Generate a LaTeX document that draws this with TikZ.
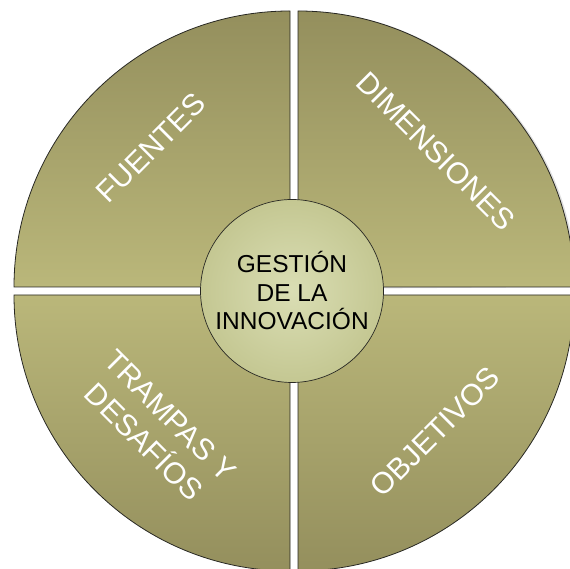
\documentclass[tikz,border=0pt]{standalone}
\usepackage{fontspec}
\setmainfont{Liberation Sans}
\usetikzlibrary{shadings}
\definecolor{secdark}{RGB}{148,143,93}
\definecolor{seclight}{RGB}{186,183,122}
\definecolor{hubin}{RGB}{218,222,180}
\definecolor{hubout}{RGB}{196,199,146}
\definecolor{edge}{RGB}{40,40,35}
\tikzset{
  sectorT/.style={top color=secdark, bottom color=seclight, draw=edge, line width=0.8pt},
  sectorB/.style={top color=seclight, bottom color=secdark, draw=edge, line width=0.8pt},
  lbl/.style={text=white, font=\fontsize{30}{37}\selectfont, align=center, inner sep=0pt},
  hub/.style={circle, minimum size=183pt, inner sep=0pt, draw=edge, line width=0.7pt,
    inner color=hubin, outer color=hubout, font=\fontsize{24.5}{28.5}\selectfont, align=center}
}
\begin{document}
\begin{tikzpicture}[x=1pt,y=1pt]
\useasboundingbox (0,0) rectangle (570,569);
\clip (0,0) rectangle (570,569);
% shadow of top-right sector
\fill[black!12] (300,280) -- (300,558) arc[start angle=90,end angle=0,radius=276] -- cycle;
% sectors
\path[sectorT] (290,282) -- (14,282) arc[start angle=180,end angle=90,radius=276] -- cycle;
\path[sectorT] (298,282) -- (298,558) arc[start angle=90,end angle=0,radius=276] -- cycle;
\path[sectorB] (290,274) -- (290,-2) arc[start angle=270,end angle=180,radius=276] -- cycle;
\path[sectorB] (298,274) -- (574,274) arc[start angle=0,end angle=-90,radius=276] -- cycle;
% labels
\node[lbl, rotate=45] (fuentes) at (151,421) {FUENTES};
\node[lbl, rotate=-45] (dimensiones) at (436,418) {DIMENSIONES};
\node[lbl, rotate=-45] (trampas) at (157,140) {TRAMPAS Y\\DESAFÍOS};
\node[lbl, rotate=45] (objetivos) at (435,137) {OBJETIVOS};
% hub
\node[hub] (gestion) at (292,278) {GESTIÓN\\DE LA\\INNOVACIÓN};
\end{tikzpicture}
\end{document}
